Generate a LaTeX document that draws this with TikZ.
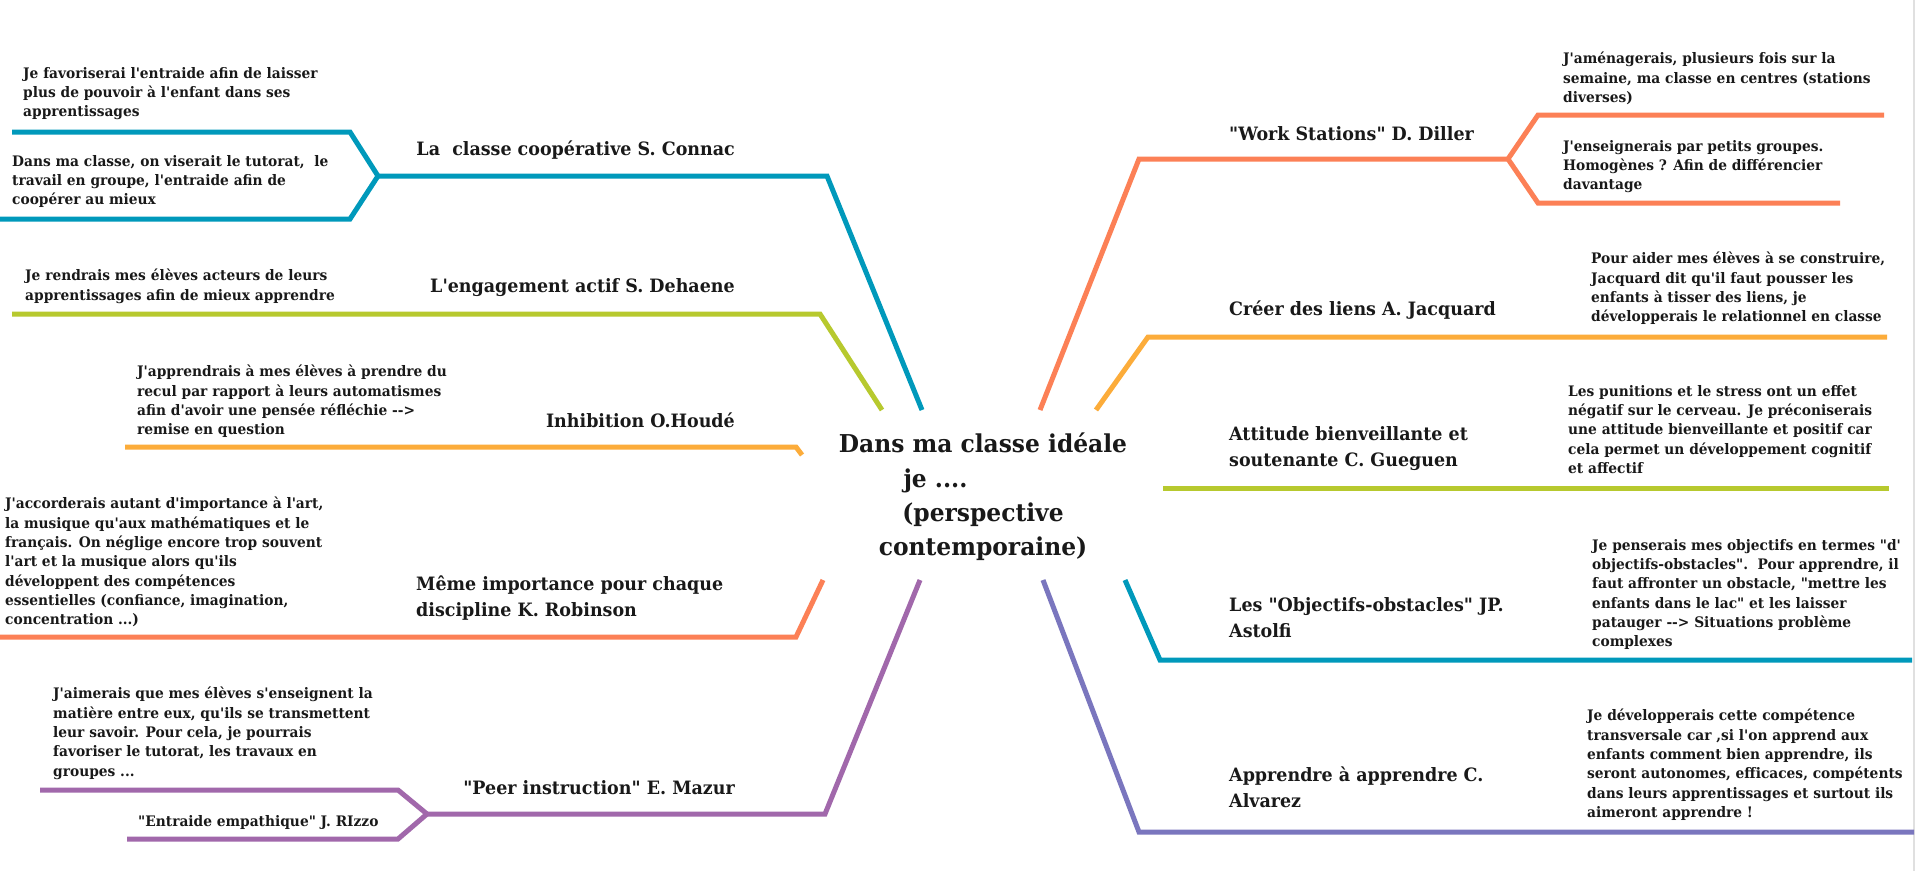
\documentclass[tikz,border=0pt]{standalone}
\usepackage{fontspec}
\newfontfamily\slab{DejaVu Serif Bold}[FakeStretch=0.95]
\definecolor{cblue}{RGB}{0,153,187}
\definecolor{cgreen}{RGB}{183,201,46}
\definecolor{cyel}{RGB}{252,172,58}
\definecolor{corange}{RGB}{252,128,86}
\definecolor{cpurple}{RGB}{161,104,171}
\definecolor{cviolet}{RGB}{122,118,190}
\tikzset{
  branch/.style={line width=5pt, line join=miter},
  body/.style={font=\slab\fontsize{14.5}{19.3}\selectfont, align=left, inner sep=0pt, text=black!90},
  title/.style={font=\slab\fontsize{18.4}{26}\selectfont, align=left, inner sep=0pt, text=black!90},
  central/.style={font=\slab\fontsize{24.6}{34.3}\selectfont, align=center, inner sep=0pt, text=black!90},
}
\begin{document}
\begin{tikzpicture}[x=1pt,y=-1pt]
\useasboundingbox (0,0) rectangle (1920,871);
\fill[white] (0,0) rectangle (1920,871);
\draw[black!12, line width=1.5pt] (1914,0) -- (1914,871);

% central topic
\node[central] (root) at (983,497) {Dans ma classe idéale\\je ....\rule{95pt}{0pt}\\(perspective\\contemporaine)};

% ---------- coordinates ----------
\coordinate (b1s) at (922,410); \coordinate (b1k) at (827,176); \coordinate (b1a) at (378,176);
\coordinate (b1u) at (350,132); \coordinate (b1ue) at (12,132);
\coordinate (b1l) at (350,219); \coordinate (b1le) at (0,219);
\coordinate (b2s) at (882,410); \coordinate (b2k) at (820,314); \coordinate (b2e) at (12,314);
\coordinate (b3s) at (802,455); \coordinate (b3k) at (796,447); \coordinate (b3e) at (125,447);
\coordinate (b4s) at (823,580); \coordinate (b4k) at (796,637); \coordinate (b4e) at (0,637);
\coordinate (b5s) at (920,580); \coordinate (b5k) at (825,814); \coordinate (b5a) at (427,814);
\coordinate (b5u) at (398,790); \coordinate (b5ue) at (40,790);
\coordinate (b5l) at (398,839); \coordinate (b5le) at (127,839);

\coordinate (r1s) at (1040,410); \coordinate (r1k) at (1139,159); \coordinate (r1a) at (1508,159);
\coordinate (r1u) at (1538,115); \coordinate (r1ue) at (1884,115);
\coordinate (r1l) at (1538,203); \coordinate (r1le) at (1840,203);
\coordinate (r2s) at (1096,410); \coordinate (r2k) at (1148,337); \coordinate (r2e) at (1887,337);
\coordinate (r3s) at (1163,488); \coordinate (r3e) at (1889,488);
\coordinate (r4s) at (1125,580); \coordinate (r4k) at (1160,660); \coordinate (r4e) at (1912,660);
\coordinate (r5s) at (1043,580); \coordinate (r5k) at (1139,832); \coordinate (r5e) at (1914,832);

% ---------- branches ----------
\draw[branch, cblue] (b1s) -- (b1k) -- (b1a);
\draw[branch, cblue] (b1ue) -- (b1u) -- (b1a) -- (b1l) -- (b1le);
\draw[branch, cgreen] (b2s) -- (b2k) -- (b2e);
\draw[branch, cyel] (b3s) -- (b3k) -- (b3e);
\draw[branch, corange] (b4s) -- (b4k) -- (b4e);
\draw[branch, cpurple] (b5s) -- (b5k) -- (b5a);
\draw[branch, cpurple] (b5ue) -- (b5u) -- (b5a) -- (b5l) -- (b5le);

\draw[branch, corange] (r1s) -- (r1k) -- (r1a);
\draw[branch, corange] (r1ue) -- (r1u) -- (r1a) -- (r1l) -- (r1le);
\draw[branch, cyel] (r2s) -- (r2k) -- (r2e);
\draw[branch, cgreen] (r3s) -- (r3e);
\draw[branch, cblue] (r4s) -- (r4k) -- (r4e);
\draw[branch, cviolet] (r5s) -- (r5k) -- (r5e);

% ---------- left titles ----------
\node[title, anchor=east] (t1) at (735,150) {La\ \ classe coopérative S. Connac};
\node[title, anchor=east] (t2) at (735,288) {L'engagement actif S. Dehaene};
\node[title, anchor=east] (t3) at (735,420) {Inhibition O.Houdé};
\node[title, anchor=north west] (t4) at (416,576) {Même importance pour chaque\\discipline K. Robinson};
\node[title, anchor=east] (t5) at (735,788) {"Peer instruction" E. Mazur};

% ---------- left texts ----------
\node[body, anchor=north west] (l1a) at (23,67) {Je favoriserai l'entraide afin de laisser\\plus de pouvoir à l'enfant dans ses\\apprentissages};
\node[body, anchor=north west] (l1b) at (12,155) {Dans ma classe, on viserait le tutorat,\ \ le\\travail en groupe, l'entraide afin de\\coopérer au mieux};
\node[body, anchor=north west] (l2) at (25,269) {Je rendrais mes élèves acteurs de leurs\\apprentissages afin de mieux apprendre};
\node[body, anchor=north west] (l3) at (137,365) {J'apprendrais à mes élèves à prendre du\\recul par rapport à leurs automatismes\\afin d'avoir une pensée réfléchie -{}-{}>\\remise en question};
\node[body, anchor=north west] (l4) at (5,497) {J'accorderais autant d'importance à l'art,\\la musique qu'aux mathématiques et le\\français. On néglige encore trop souvent\\l'art et la musique alors qu'ils\\développent des compétences\\essentielles (confiance, imagination,\\concentration ...)};
\node[body, anchor=north west] (l5a) at (53,687) {J'aimerais que mes élèves s'enseignent la\\matière entre eux, qu'ils se transmettent\\leur savoir. Pour cela, je pourrais\\favoriser le tutorat, les travaux en\\groupes ...};
\node[body, anchor=west] (l5b) at (138,822) {"Entraide empathique" J. RIzzo};

% ---------- right titles ----------
\node[title, anchor=west] (s1) at (1229,134) {"Work Stations" D. Diller};
\node[title, anchor=west] (s2) at (1229,310) {Créer des liens A. Jacquard};
\node[title, anchor=north west] (s3) at (1229,426) {Attitude bienveillante et\\soutenante C. Gueguen};
\node[title, anchor=north west] (s4) at (1229,597) {Les "Objectifs-obstacles" JP.\\Astolfi};
\node[title, anchor=north west] (s5) at (1229,767) {Apprendre à apprendre C.\\Alvarez};

% ---------- right texts ----------
\node[body, anchor=north west] (r1a) at (1563,52) {J'aménagerais, plusieurs fois sur la\\semaine, ma classe en centres (stations\\diverses)};
\node[body, anchor=north west] (r1b) at (1563,140) {J'enseignerais par petits groupes.\\Homogènes ? Afin de différencier\\davantage};
\node[body, anchor=north west] (r2) at (1591,252) {Pour aider mes élèves à se construire,\\Jacquard dit qu'il faut pousser les\\enfants à tisser des liens, je\\développerais le relationnel en classe};
\node[body, anchor=north west] (r3) at (1568,385) {Les punitions et le stress ont un effet\\négatif sur le cerveau. Je préconiserais\\une attitude bienveillante et positif car\\cela permet un développement cognitif\\et affectif};
\node[body, anchor=north west] (r4) at (1592,539) {Je penserais mes objectifs en termes "d'\\objectifs-obstacles".\ \ Pour apprendre, il\\faut affronter un obstacle, "mettre les\\enfants dans le lac" et les laisser\\patauger -{}-{}> Situations problème\\complexes};
\node[body, anchor=north west] (r5) at (1587,709) {Je développerais cette compétence\\transversale car ,si l'on apprend aux\\enfants comment bien apprendre, ils\\seront autonomes, efficaces, compétents\\dans leurs apprentissages et surtout ils\\aimeront apprendre !};
\end{tikzpicture}
\end{document}
